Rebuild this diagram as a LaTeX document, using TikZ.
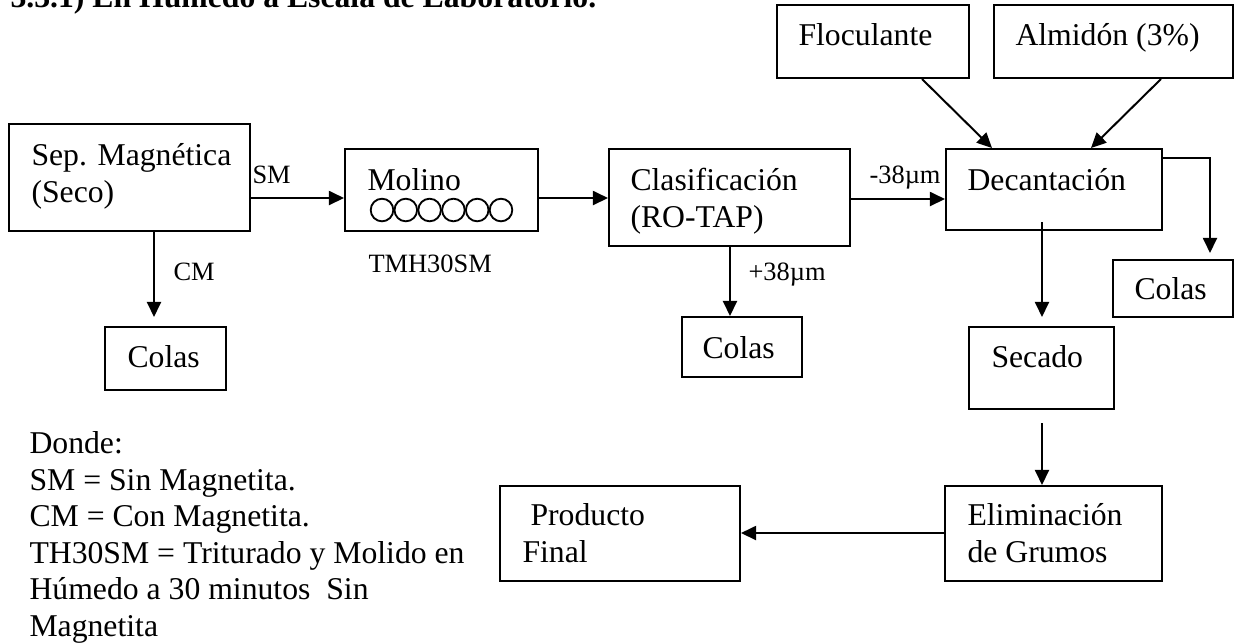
\documentclass[tikz,border=0pt]{standalone}
\usepackage{fontspec}
\setmainfont{Liberation Serif}
\usetikzlibrary{arrows.meta,fit}
\begin{document}
\begin{tikzpicture}[x=0.3785pt,y=-0.3785pt,
 box/.style={draw,line width=0.75pt,inner sep=0pt},
 txt/.style={anchor=base west,inner sep=0pt,font=\fontsize{12}{13.8}\selectfont},
 lbl/.style={anchor=base west,inner sep=0pt,font=\fontsize{10}{12}\selectfont},
 arr/.style={line width=0.75pt,-{Triangle[length=5.7pt,width=5.3pt]}},
 ln/.style={line width=0.75pt}]
\useasboundingbox (0,0) rectangle (1237,642);
\clip (0,0) rectangle (1237,642);
% title (cut at top)
\node[anchor=base west,inner sep=0pt,font=\bfseries\fontsize{12}{14}\selectfont] (title) at (10,7) {3.3.1) En Húmedo a Escala de Laboratorio.};
% boxes
\node[box,fit={(9,124)(250,231)}] (sep) {};
\node[txt] (tsep1) at (31,165) {Sep. Magnética};
\node[txt] (tsep2) at (31,202) {(Seco)};
\node[box,fit={(345,149)(538,231)}] (mol) {};
\node[txt] (tmol) at (367,190) {Molino};
\foreach \i in {0,...,5} {\draw[line width=0.7pt] (382+23.8*\i,210) circle[radius=11.3];}
\node[box,fit={(609,149)(850,246)}] (cla) {};
\node[txt] (tcla1) at (630,190) {Clasificación};
\node[txt] (tcla2) at (630,227) {(RO-TAP)};
\node[box,fit={(946,149)(1162,230)}] (dec) {};
\node[txt] (tdec) at (967,190) {Decantación};
\node[box,fit={(777,5)(969,78)}] (flo) {};
\node[txt] (tflo) at (798,45) {Floculante};
\node[box,fit={(994,5)(1233,78)}] (alm) {};
\node[txt] (talm) at (1015,45) {Almidón (3\%)};
\node[box,fit={(1113,260)(1233,317)}] (colr) {};
\node[txt] (tcolr) at (1134,299) {Colas};
\node[box,fit={(969,327)(1114,409)}] (sec) {};
\node[txt] (tsec) at (991,367) {Secado};
\node[box,fit={(945,486)(1162,581)}] (eli) {};
\node[txt] (teli1) at (967,525) {Eliminación};
\node[txt] (teli2) at (967,562) {de Grumos};
\node[box,fit={(105,327)(226,390)}] (coll) {};
\node[txt] (tcoll) at (127,367) {Colas};
\node[box,fit={(682,317)(802,377)}] (colm) {};
\node[txt] (tcolm) at (702,358) {Colas};
\node[box,fit={(500,486)(740,581)}] (pro) {};
\node[txt] (tpro1) at (530,525) {Producto};
\node[txt] (tpro2) at (522,562) {Final};
% labels
\node[lbl] (lsm) at (252,183) {SM};
\node[lbl] (lcm) at (173,280) {CM};
\node[lbl] (ltmh) at (368,272) {TMH30SM};
\node[lbl] (lm38) at (869,183) {-38µm};
\node[lbl] (lp38) at (748,280) {+38µm};
% legend
\node[txt] (leg1) at (29,453) {Donde:};
\node[txt] (leg2) at (29,490) {SM = Sin Magnetita.};
\node[txt] (leg3) at (29,526) {CM = Con Magnetita.};
\node[txt] (leg4) at (29,563) {TH30SM = Triturado y Molido en};
\node[txt] (leg5) at (29,599) {Húmedo a 30 minutos\ \ Sin};
\node[txt] (leg6) at (29,636) {Magnetita};
% connectors
\coordinate (ccl) at (154,317);
\coordinate (ccr) at (1210,253);
\coordinate (dsrc) at (1042,222);
\coordinate (ssec) at (1042,317);
\coordinate (selim) at (1042,423);
\draw[arr] (sep.east |- 0,198) -- (mol.west |- 0,198);
\draw[arr] (sep.south -| ccl) -- (ccl);
\draw[arr] (mol.east |- 0,198) -- (cla.west |- 0,198);
\draw[arr] (cla.south -| 730,0) -- (colm.north -| 730,0);
\draw[arr] (cla.east |- 0,199) -- (dec.west |- 0,199);
\draw[arr] (flo.south -| 922,0) -- (dec.north -| 992,0);
\draw[arr] (alm.south -| 1161,0) -- (dec.north -| 1091,0);
\draw[arr] (dec.east |- 0,158) -| (ccr);
\draw[arr] (dsrc) -- (ssec);
\draw[arr] (selim) -- (eli.north -| selim);
\draw[arr] (eli.west |- 0,533) -- (pro.east |- 0,533);
\end{tikzpicture}
\end{document}
